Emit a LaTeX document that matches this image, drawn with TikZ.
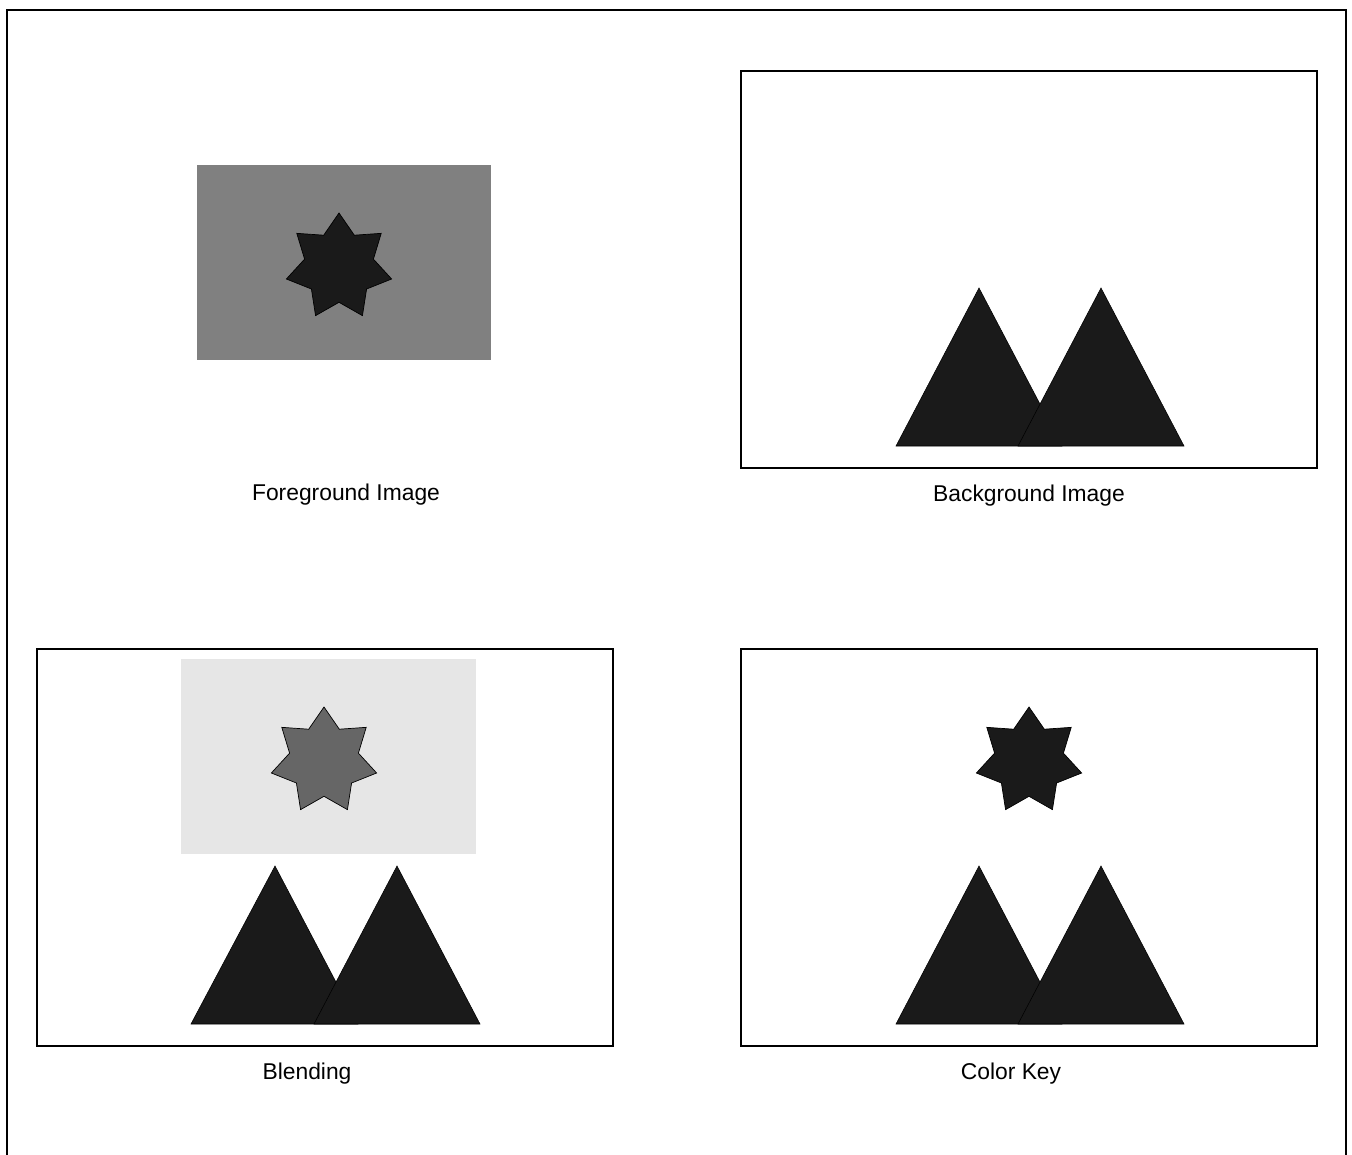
\documentclass[tikz,border=0pt]{standalone}
\usepackage{fontspec}
\setmainfont{Liberation Sans}
\usetikzlibrary{shapes.geometric}
\definecolor{shapeblack}{HTML}{1A1A1A}
\definecolor{fggray}{HTML}{808080}
\definecolor{blendgray}{HTML}{E6E6E6}
\definecolor{blendstar}{HTML}{666666}
\tikzset{
  frame/.style={draw=black, line width=0.6pt},
  starshape/.style={star, star points=7, star point ratio=1.53, minimum size=2.16cm, inner sep=0pt, draw=black, line width=0.4pt},
  mountain/.style={fill=shapeblack, draw=black, line width=0.3pt},
  caption/.style={font=\fontsize{13}{15}\selectfont, inner sep=0pt}
}
\begin{document}
\begin{tikzpicture}[x=0.02cm, y=-0.02cm]
            \useasboundingbox (0,0) rectangle (1352,1155);
            \fill[white] (0,0) rectangle (1352,1155);
            \draw[line width=1.2pt] (7,1170) -- (7,10) -- (1346,10) -- (1346,1170);
            % foreground
            \fill[fggray] (197,165) rectangle (491,360);
            \node[starshape, fill=shapeblack] (fgstar) at (339,267) {};
            \node[caption] (fglabel) at (346,495) {Foreground Image};
            % background
            \draw[frame] (741,71) rectangle (1317,468);
            \draw[mountain] (896,446) -- (979,288) -- (1062,446) -- cycle;
            \draw[mountain] (1018,446) -- (1101,288) -- (1184,446) -- cycle;
            \node[caption] (bglabel) at (1029,496) {Background Image};
            % blending
            \begin{scope}[shift={(-704,578)}]
                \draw[frame] (741,71) rectangle (1317,468);
                \fill[blendgray] (885,81) rectangle (1180,276);
                \node[starshape, fill=blendstar] (blendingstar) at (1028,183) {};
                \draw[mountain] (895,446) -- (979,288) -- (1062,446) -- cycle;
                \draw[mountain] (1018,446) -- (1101,288) -- (1184,446) -- cycle;
            \end{scope}
            \node[caption] (blendlabel) at (307,1074) {Blending};
            % color key
            \begin{scope}[shift={(0,578)}]
                \draw[frame] (741,71) rectangle (1317,468);
                \node[starshape, fill=shapeblack] (keystar) at (1029,183) {};
                \draw[mountain] (896,446) -- (979,288) -- (1062,446) -- cycle;
                \draw[mountain] (1018,446) -- (1101,288) -- (1184,446) -- cycle;
            \end{scope}
            \node[caption] (keylabel) at (1011,1074) {Color Key};
\end{tikzpicture}
\end{document}
